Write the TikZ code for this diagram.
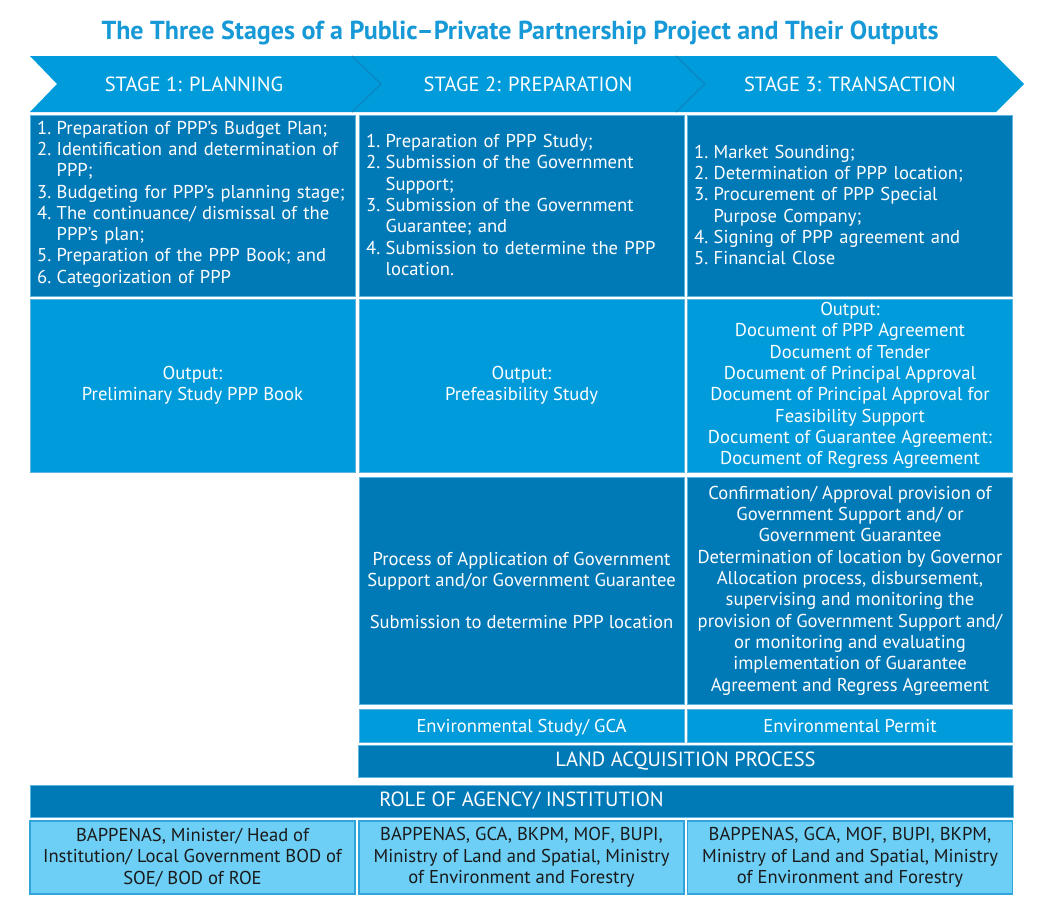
\documentclass[tikz,border=0pt]{standalone}
\usepackage{fontspec}
\setmainfont{PT Sans}
\usetikzlibrary{positioning}
\definecolor{darkb}{HTML}{0079B7}
\definecolor{midb}{HTML}{009BDB}
\definecolor{lightb}{HTML}{6DCFF6}
\definecolor{edgeb}{HTML}{2FA5DC}
\definecolor{lineb}{HTML}{5DB5E2}
\definecolor{chevline}{HTML}{0C86C2}
\definecolor{titleb}{HTML}{1699D6}
\definecolor{txtd}{HTML}{1A1A1A}
\newcommand{\itm}[2]{\hangindent=19.5pt\hangafter=1\noindent\makebox[19.5pt][l]{#1}#2\par}
\begin{document}
\begin{tikzpicture}[x=1pt,y=-1pt,
  bodyfont/.style={font=\fontsize{18.6}{21.3}\selectfont},
  capsfont/.style={font=\fontsize{20.5}{24}\selectfont},
  cell/.style={rectangle, draw=lineb, line width=0.8pt, inner sep=0pt, minimum width=325, text=white, bodyfont, align=center},
  darkcell/.style={cell, fill=darkb},
  midcell/.style={cell, fill=midb},
  lightcell/.style={cell, fill=lightb, draw=edgeb, line width=1.4pt, text=txtd},
  oneline/.style={text height=13, text depth=0},
  listtext/.style={text width=310, align=left, bodyfont, text=white, anchor=west, inner sep=0pt}
]
\useasboundingbox (0,0) rectangle (1040,919);
% title
\node[font=\fontsize{26}{30}\selectfont\bfseries, text=titleb] (title) at (520,33) {The Three Stages of a Public–Private Partnership Project and Their Outputs};
% chevron band
\fill[midb] (30,56) -- (996,56) -- (1024,84) -- (996,112) -- (30,112) -- (57,84) -- cycle;
\draw[chevline, line width=1.2pt] (352,56) -- (381,84) -- (352,112);
\draw[chevline, line width=1.2pt] (676,56) -- (705,84) -- (676,112);
\node[text=white, capsfont] (s1) at (194,84) {STAGE 1: PLANNING};
\node[text=white, capsfont] (s2) at (528,84) {STAGE 2: PREPARATION};
\node[text=white, capsfont] (s3) at (850,84) {STAGE 3: TRANSACTION};
% row 1
\node[darkcell, minimum height=181] (a1) at (192.5,205.5) {};
\node[darkcell, minimum height=181] (a2) at (521.5,205.5) {};
\node[darkcell, minimum height=181] (a3) at (850,205.5) {};
\node[listtext] (a1t) at (37,204) {%
\itm{1.}{Preparation of PPP’s Budget Plan;}
\itm{2.}{Identification and determination of\newline PPP;}
\itm{3.}{Budgeting for PPP’s planning stage;}
\itm{4.}{The continuance/ dismissal of the\newline PPP’s plan;}
\itm{5.}{Preparation of the PPP Book; and}
\itm{6.}{Categorization of PPP}};
\node[listtext] (a2t) at (366,205) {%
\itm{1.}{Preparation of PPP Study;}
\itm{2.}{Submission of the Government\newline Support;}
\itm{3.}{Submission of the Government\newline Guarantee; and}
\itm{4.}{Submission to determine the PPP\newline location.}};
\node[listtext] (a3t) at (694,205) {%
\itm{1.}{Market Sounding;}
\itm{2.}{Determination of PPP location;}
\itm{3.}{Procurement of PPP Special\newline Purpose Company;}
\itm{4.}{Signing of PPP agreement and}
\itm{5.}{Financial Close}};
% row 2
\node[midcell, minimum height=173] (b1) at (192.5,385.5) {Output:\\Preliminary Study PPP Book};
\node[midcell, minimum height=173] (b2) at (521.5,385.5) {Output:\\Prefeasibility Study};
\node[midcell, minimum height=173] (b3) at (850,385.5) {Output:\\Document of PPP Agreement\\Document of Tender\\Document of Principal Approval\\Document of Principal Approval for\\Feasibility Support\\Document of Guarantee Agreement:\\Document of Regress Agreement};
% row 3
\node[darkcell, minimum height=227] (c2) at (521.5,590.5) {Process of Application of Government\\Support and/or Government Guarantee\\[21.3pt]Submission to determine PPP location};
\node[darkcell, minimum height=227] (c3) at (850,590.5) {Confirmation/ Approval provision of\\Government Support and/ or\\Government Guarantee\\Determination of location by Governor\\Allocation process, disbursement,\\supervising and monitoring the\\provision of Government Support and/\\or monitoring and evaluating\\implementation of Guarantee\\Agreement and Regress Agreement};
% row 4
\node[midcell, oneline, minimum height=33] (d2) at (521.5,725.5) {Environmental Study/ GCA};
\node[midcell, oneline, minimum height=33] (d3) at (850,725.5) {Environmental Permit};
% row 5
\node[darkcell, capsfont, minimum width=654, minimum height=32] (e) at (685.5,761) {LAND ACQUISITION PROCESS};
% row 6
\node[darkcell, capsfont, minimum width=983, minimum height=32] (f) at (521.5,801) {ROLE OF AGENCY/ INSTITUTION};
% row 7
\node[lightcell, minimum height=73] (g1) at (192.5,857.5) {BAPPENAS, Minister/ Head of\\Institution/ Local Government BOD of\\SOE/ BOD of ROE};
\node[lightcell, minimum height=73] (g2) at (521.5,857.5) {BAPPENAS, GCA, BKPM, MOF, BUPI,\\Ministry of Land and Spatial, Ministry\\of Environment and Forestry};
\node[lightcell, minimum height=73] (g3) at (850,857.5) {BAPPENAS, GCA, MOF, BUPI, BKPM,\\Ministry of Land and Spatial, Ministry\\of Environment and Forestry};
\end{tikzpicture}
\end{document}
